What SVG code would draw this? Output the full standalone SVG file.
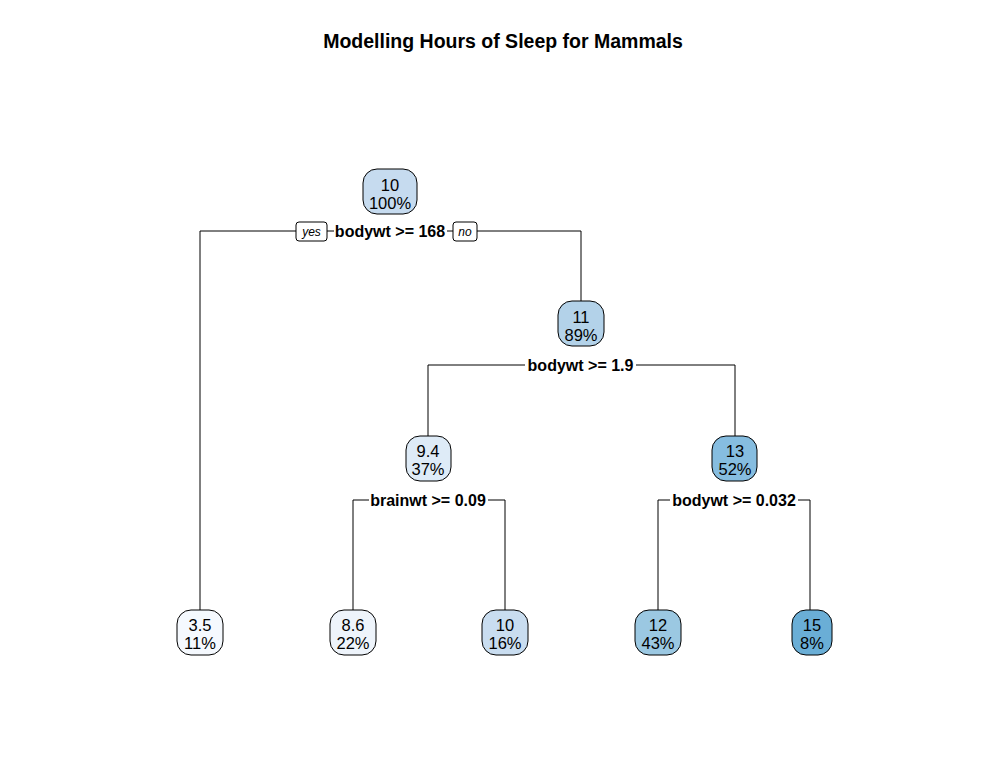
<svg xmlns="http://www.w3.org/2000/svg" width="1007" height="766" viewBox="0 0 1007 766">
<style>
.bg{fill:#fff}
.node rect{stroke:#000;stroke-width:1}
.nt{font-family:"Liberation Sans",Arial,sans-serif;font-size:16.5px;text-anchor:middle;fill:#000}
.sl{font-family:"Liberation Sans",Arial,sans-serif;font-size:16px;font-weight:bold;text-anchor:middle;fill:#000}
.yn{font-family:"Liberation Sans",Arial,sans-serif;font-size:12px;font-style:italic;text-anchor:middle;fill:#000}
.edges path{fill:none;stroke:#000;stroke-width:1}
.lblbg{fill:#fff}
.title{font-family:"Liberation Sans",Arial,sans-serif;font-size:19.5px;font-weight:bold;text-anchor:middle;fill:#000}
</style>
<rect class="bg" x="0" y="0" width="1007" height="766"/>
<text class="title" x="503" y="48">Modelling Hours of Sleep for Mammals</text>
<g class="edges">
<path d="M200,610 V231 H581 V301"/>
<path d="M428,436 V365 H735 V436"/>
<path d="M353,610 V500 H505 V610"/>
<path d="M658,610 V500 H810 V610"/>
</g>
<g id="split1">
<rect class="lblbg" x="334" y="222" width="113" height="18"/>
<text class="sl" x="390" y="237">bodywt &gt;= 168</text>
<rect x="296" y="222" width="31" height="19" rx="3" fill="#fff" stroke="#000"/>
<text class="yn" x="311.500" y="236">yes</text>
<rect x="453" y="222" width="24" height="19" rx="3" fill="#fff" stroke="#000"/>
<text class="yn" x="465" y="236">no</text>
</g>
<g id="split2">
<rect class="lblbg" x="525" y="356" width="111" height="18"/>
<text class="sl" x="580.500" y="371">bodywt &gt;= 1.9</text>
</g>
<g id="split3">
<rect class="lblbg" x="369" y="491" width="119" height="18"/>
<text class="sl" x="428" y="506">brainwt &gt;= 0.09</text>
</g>
<g id="split4">
<rect class="lblbg" x="670" y="491" width="128" height="18"/>
<text class="sl" x="734" y="506">bodywt &gt;= 0.032</text>
</g>
<g id="n1" class="node">
<rect x="363" y="169" width="54" height="45" rx="14" fill="#C6DBEF"/>
<text class="nt" x="390" y="191">10</text>
<text class="nt" x="390" y="209">100%</text>
</g>
<g id="n3" class="node">
<rect x="558" y="301" width="46" height="45" rx="14" fill="#B3D2E9"/>
<text class="nt" x="581" y="323">11</text>
<text class="nt" x="581" y="341">89%</text>
</g>
<g id="n6" class="node">
<rect x="406" y="436" width="45" height="45" rx="14" fill="#DEEBF7"/>
<text class="nt" x="428" y="457">9.4</text>
<text class="nt" x="428" y="475">37%</text>
</g>
<g id="n7" class="node">
<rect x="712" y="436" width="45" height="45" rx="14" fill="#86BDE0"/>
<text class="nt" x="735" y="457">13</text>
<text class="nt" x="735" y="475">52%</text>
</g>
<g id="n2" class="node">
<rect x="177" y="610" width="46" height="45" rx="14" fill="#F5F9FE"/>
<text class="nt" x="200" y="631">3.5</text>
<text class="nt" x="200" y="649">11%</text>
</g>
<g id="n12" class="node">
<rect x="330" y="610" width="46" height="45" rx="14" fill="#EEF4FB"/>
<text class="nt" x="353" y="631">8.6</text>
<text class="nt" x="353" y="649">22%</text>
</g>
<g id="n13" class="node">
<rect x="482" y="610" width="46" height="45" rx="14" fill="#C9DDF0"/>
<text class="nt" x="505" y="631">10</text>
<text class="nt" x="505" y="649">16%</text>
</g>
<g id="n14" class="node">
<rect x="635" y="610" width="46" height="45" rx="14" fill="#9BC8E2"/>
<text class="nt" x="658" y="631">12</text>
<text class="nt" x="658" y="649">43%</text>
</g>
<g id="n15" class="node">
<rect x="792" y="610" width="40" height="45" rx="14" fill="#6AAED6"/>
<text class="nt" x="812" y="631">15</text>
<text class="nt" x="812" y="649">8%</text>
</g>
</svg>
